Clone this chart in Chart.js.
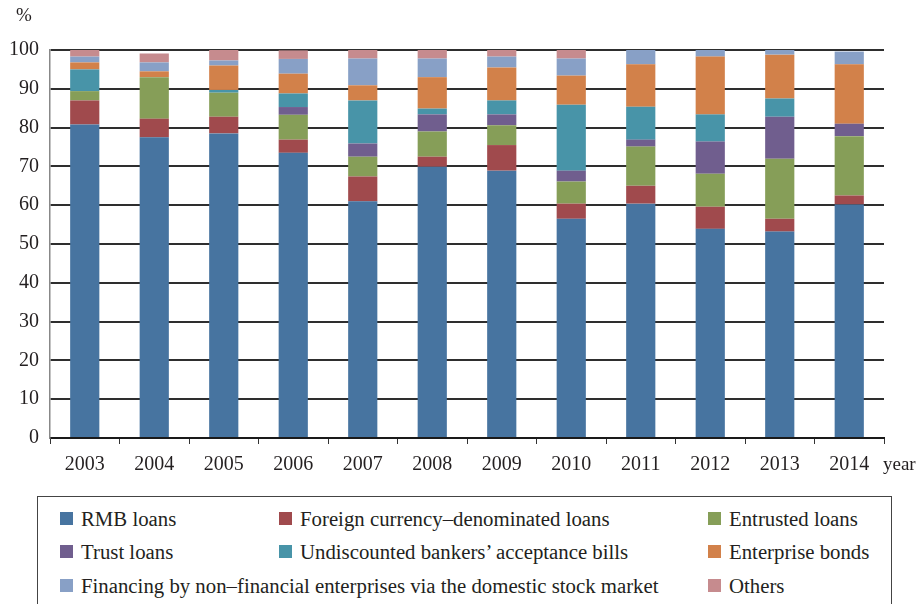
<!DOCTYPE html>
<html>
<head>
<meta charset="utf-8">
<script src="https://cdn.jsdelivr.net/npm/chart.js@4/dist/chart.umd.min.js"></script>
<style>
  html, body { margin: 0; padding: 0; background: #fff; overflow: hidden; }
  #wrap { position: relative; width: 918px; height: 604px; }
  #c { position: absolute; left: 0; top: 0; }
  #legend { position: absolute; left: 37px; top: 496px; width: 855px; height: 130px;
            border: 1.5px solid #444; box-sizing: border-box; }
  .item { position: absolute; font-family: "Liberation Serif", "DejaVu Serif", serif;
          font-size: 20.8px; color: #231f20; white-space: nowrap; line-height: 20px; }
  .sw { position: absolute; width: 13px; height: 13px; }
</style>
</head>
<body>
<div id="wrap">
  <canvas id="c" width="918" height="490"></canvas>
  <div id="legend"></div>
</div>
<script>
const years = ['2003','2004','2005','2006','2007','2008','2009','2010','2011','2012','2013','2014'];
const rmbLoans        = [80.8, 77.5, 78.5, 73.5, 61.0, 69.9, 68.9, 56.5, 60.4, 53.9, 53.2, 60.2];
const foreignLoans    = [6.2, 4.8, 4.3, 3.4, 6.4, 2.6, 6.6, 3.9, 4.6, 5.7, 3.3, 2.3];
const entrustedLoans  = [2.4, 10.7, 6.2, 6.4, 5.1, 6.5, 5.1, 5.7, 10.1, 8.5, 15.5, 15.3];
const trustLoans      = [0, 0, 0, 2.0, 3.4, 4.4, 2.8, 2.8, 1.8, 8.3, 10.8, 3.2];
const bankersBills    = [5.6, 0, 0.7, 3.5, 11.1, 1.5, 3.6, 17.0, 8.5, 7.0, 4.7, 0];
const enterpriseBonds = [1.8, 1.5, 6.3, 5.1, 3.9, 8.1, 8.5, 7.5, 10.9, 14.9, 11.3, 15.3];
const stockFinancing  = [1.5, 2.3, 1.3, 3.8, 6.9, 4.8, 2.8, 4.4, 3.7, 1.7, 1.2, 3.3];
const others          = [1.7, 2.3, 2.7, 2.2, 2.2, 2.2, 1.7, 2.2, 0, 0, 0, 0];

const seriesNames = [
  'RMB loans',
  'Foreign currency\u2013denominated loans',
  'Entrusted loans',
  'Trust loans',
  'Undiscounted bankers\u2019 acceptance bills',
  'Enterprise bonds',
  'Financing by non\u2013financial enterprises via the domestic stock market',
  'Others'
];
const seriesData = [rmbLoans, foreignLoans, entrustedLoans, trustLoans, bankersBills, enterpriseBonds, stockFinancing, others];
const seriesColors = ['#4774a0', '#a04a4d', '#869e58', '#705e8e', '#4894a8', '#d2814a', '#88a0c6', '#c68b8e'];

const FONT = '"Liberation Serif", "DejaVu Serif", serif';
const TEXT = '#231f20';

const extras = {
  id: 'extras',
  afterDraw(chart) {
    const ctx = chart.ctx;
    ctx.save();
    ctx.fillStyle = TEXT;
    ctx.font = '19px ' + FONT;
    ctx.textAlign = 'center';
    ctx.textBaseline = 'middle';
    ctx.fillText('%', 24, 16);
    ctx.textAlign = 'left';
    ctx.fillText('year', 883, 465);
    ctx.restore();
  }
};

const chart = new Chart(document.getElementById('c'), {
  type: 'bar',
  data: {
    labels: years,
    datasets: seriesNames.map((n, i) => ({
      label: n,
      data: seriesData[i],
      backgroundColor: seriesColors[i],
      borderWidth: 0,
      barPercentage: 0.42,
      categoryPercentage: 1.0
    }))
  },
  options: {
    responsive: false,
    animation: false,
    devicePixelRatio: 1,
    layout: { padding: { left: 0, right: 34, top: 50, bottom: 0 } },
    plugins: { legend: { display: false }, tooltip: { enabled: false } },
    scales: {
      x: {
        stacked: true,
        offset: true,
        grid: { offset: true, drawOnChartArea: false, drawTicks: true, tickLength: 6, color: '#333', lineWidth: 1 },
        border: { display: true, color: '#1a1a1a', width: 2 },
        ticks: { font: { family: FONT, size: 20 }, color: TEXT, padding: 9, maxRotation: 0 },
        afterFit(s) { s.height = 52; }
      },
      y: {
        stacked: true,
        min: 0, max: 100,
        grid: { drawTicks: false, color: '#2e2e2e', lineWidth: 2 },
        border: { display: true, color: '#888', width: 1.5 },
        ticks: { stepSize: 10, font: { family: FONT, size: 20 }, color: TEXT, padding: 11 },
        afterFit(s) { s.width = 50; }
      }
    }
  },
  plugins: [extras]
});

// HTML legend built from the chart's datasets
const legend = document.getElementById('legend');
const colX = [22, 241, 670];
const rowY = [15, 48, 82];
const slots = [[0,0],[0,1],[0,2],[1,0],[1,1],[1,2],[2,0],[2,2]];
chart.data.datasets.forEach((ds, i) => {
  const [r, c] = slots[i];
  const sw = document.createElement('div');
  sw.className = 'sw';
  sw.style.left = colX[c] + 'px';
  sw.style.top = rowY[r] + 'px';
  sw.style.background = ds.backgroundColor;
  legend.appendChild(sw);
  const t = document.createElement('div');
  t.className = 'item';
  t.style.left = (colX[c] + 21) + 'px';
  t.style.top = (rowY[r] - 3) + 'px';
  t.textContent = ds.label;
  legend.appendChild(t);
});
</script>
</body>
</html>
